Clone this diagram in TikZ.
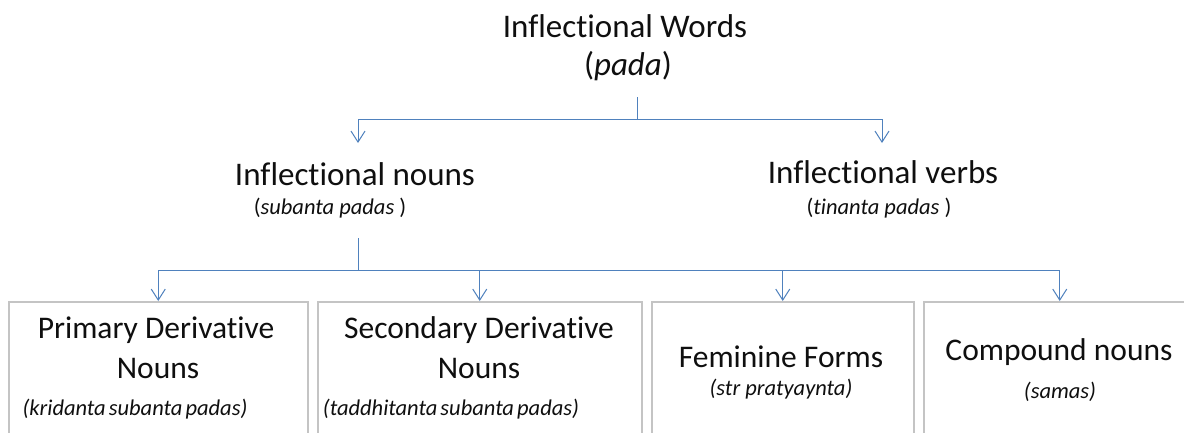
\documentclass[tikz,border=0pt]{standalone}
\usepackage{fontspec}
\setmainfont{Carlito}[RawFeature={-liga;-clig}]
\usetikzlibrary{arrows.meta}
\definecolor{connblue}{RGB}{79,129,189}
\definecolor{boxgray}{RGB}{196,196,196}
\definecolor{txt}{RGB}{15,15,15}
\begin{document}
\begin{tikzpicture}[x=1pt,y=-1pt,
  big/.style={font=\fontsize{33}{38}\selectfont, anchor=base, inner sep=0pt, text=txt},
  boxtxt/.style={font=\fontsize{31.5}{36}\selectfont, anchor=base, inner sep=0pt, text=txt},
  small/.style={font=\fontsize{22.5}{26}\selectfont, anchor=base, inner sep=0pt, text=txt},
  smallit/.style={small, font=\fontsize{22.5}{26}\selectfont\itshape},
  conn/.style={draw=connblue, line width=1pt},
  arr/.style={conn, -{Straight Barb[length=11pt,width=14pt,line width=1pt]}},
  boxst/.style={draw=boxgray, line width=1.5pt, anchor=north west, minimum height=220pt, inner sep=0pt}]
\useasboundingbox (0,0) rectangle (1184,432);
\fill[white] (0,0) rectangle (1184,432);
\clip (0,0) rectangle (1184,432);

% top level
\node[big] (title) at (625,37) {Inflectional Words};
\node[big] (pada) at (628,75) {(\textit{pada})};

% second level
\node[big] (nouns) at (355,185) {Inflectional nouns};
\node[small] (nounsub) at (330,214) {(\textit{subanta padas} )};
\node[big] (verbs) at (883,183) {Inflectional verbs};
\node[small] (verbsub) at (879,214) {(\textit{tinanta padas} )};

% boxes
\node[boxst, minimum width=299pt] (b1) at (8,301) {};
\node[boxst, minimum width=324pt] (b2) at (317,301) {};
\node[boxst, minimum width=262pt] (b3) at (651,301) {};
\node[boxst, minimum width=272pt] (b4) at (923,301) {};

\node[boxtxt] (b1a) at (156,338) {Primary Derivative};
\node[boxtxt] (b1b) at (158,378) {Nouns};
\node[smallit] (b1c) at (135,415) {(kridanta\hspace{-2pt} subanta\hspace{-2pt} padas)};

\node[boxtxt] (b2a) at (479,338) {Secondary Derivative};
\node[boxtxt] (b2b) at (479,378) {Nouns};
\node[smallit] (b2c) at (451,415) {(taddhitanta\hspace{-2pt} subanta\hspace{-2pt} padas)};

\node[boxtxt] (b3a) at (781,367) {Feminine Forms};
\node[smallit] (b3b) at (781,395) {(str pratyaynta)};

\node[boxtxt] (b4a) at (1059,360) {Compound nouns};
\node[smallit] (b4b) at (1060,398) {(samas)};

% connector points
\coordinate (s1) at (637,97);
\coordinate (j1) at (637,119);
\coordinate (t1) at (358,143);
\coordinate (t2) at (882,143);
\coordinate (s2) at (358,238);
\coordinate (j2) at (358,270);

\draw[conn] (s1) -- (j1);
\draw[arr] (j1) -| (t1);
\draw[arr] (j1) -| (t2);

\draw[conn] (s2) -- (j2);
\draw[arr] (j2) -| (b1.north);
\draw[arr] (j2) -| (b2.north);
\draw[arr] (j2) -| (b3.north);
\draw[arr] (j2) -| (b4.north);
\end{tikzpicture}
\end{document}
